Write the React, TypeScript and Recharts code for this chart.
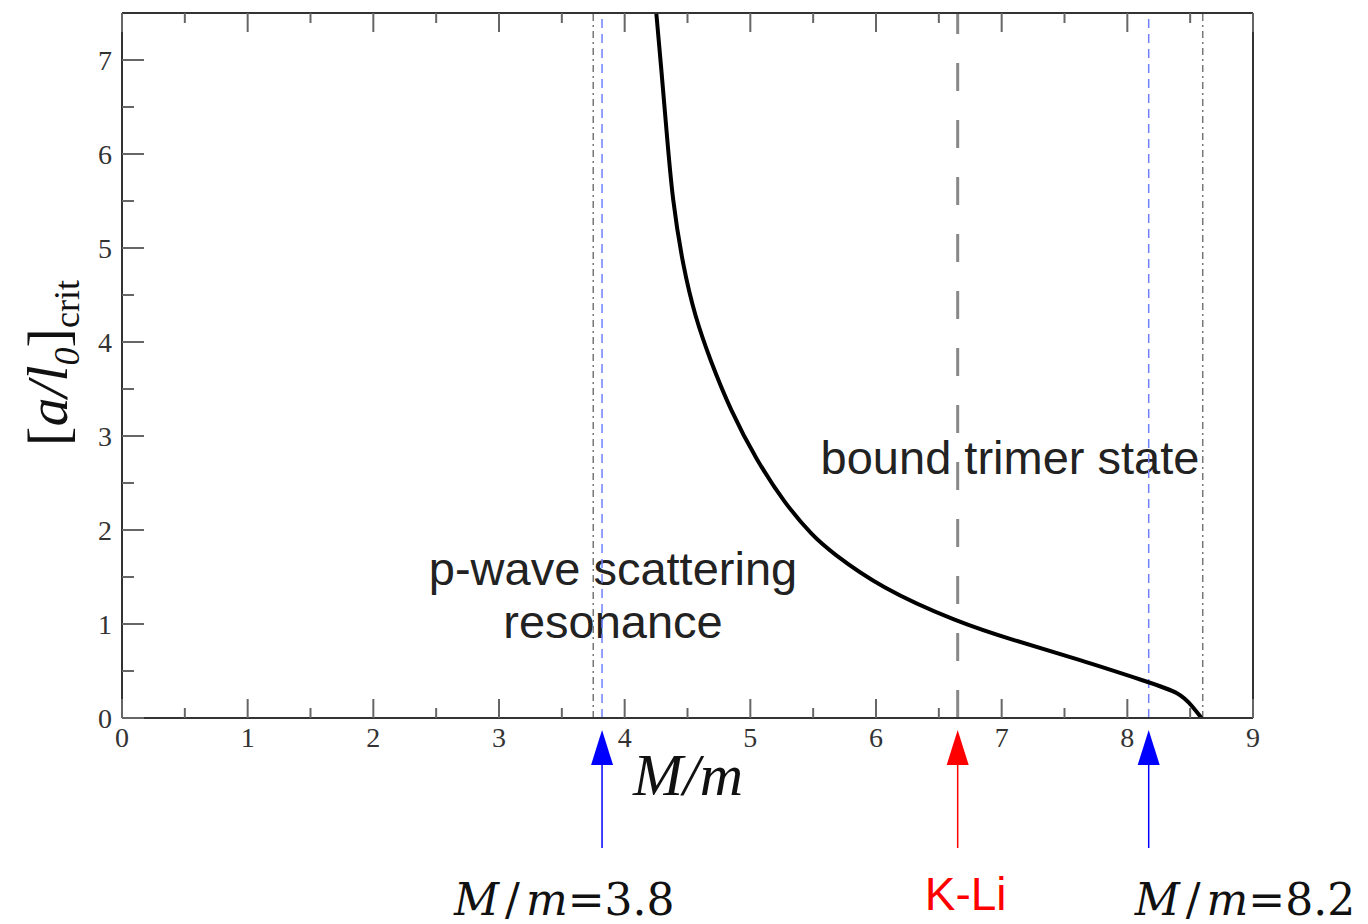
import { LineChart, Line, XAxis, YAxis, ReferenceLine } from 'recharts'

// critical curve
const massRatio = [4.245, 4.29, 4.335, 4.38, 4.465, 4.56, 4.68, 4.84, 5.05, 5.27, 5.5, 5.64, 6.03, 6.65, 7.09, 7.62, 8.17, 8.42, 8.52, 8.59]
const critValue = [7.6, 6.93, 6.22, 5.51, 4.8, 4.27, 3.81, 3.28, 2.74, 2.29, 1.93, 1.77, 1.39, 1.02, 0.83, 0.62, 0.38, 0.27, 0.12, 0]

const xTicks = [0, 0.5, 1, 1.5, 2, 2.5, 3, 3.5, 4, 4.5, 5, 5.5, 6, 6.5, 7, 7.5, 8, 8.5, 9]
const yTicks = [0, 0.5, 1, 1.5, 2, 2.5, 3, 3.5, 4, 4.5, 5, 5.5, 6, 6.5, 7]

// vertical markers
const dashDotLines = [3.75, 8.6]
const pWaveLow = 3.82
const pWaveHigh = 8.17
const kLi = 6.65

const data = massRatio.map((x, i) => ({ x, y: critValue[i] }))

const tickColor = '#666'
const labelFont = 'Liberation Serif, serif'
const sansFont = 'Liberation Sans, Arial, sans-serif'

const isMajor = (v: number) => Number.isInteger(v)

const BottomTick = (props: any) => {
  const { x, y, payload } = props
  const major = isMajor(payload.value)
  return (
    <g>
      <line x1={x} x2={x} y1={y} y2={y - (major ? 19 : 10)} stroke={tickColor} strokeWidth={2} />
      {major && (
        <text x={x} y={y + 29} textAnchor="middle" fontFamily={labelFont} fontSize={28} fill="#333">
          {payload.value}
        </text>
      )}
    </g>
  )
}

const TopTick = (props: any) => {
  const { x, y, payload } = props
  const major = isMajor(payload.value)
  return <line x1={x} x2={x} y1={y} y2={y + (major ? 19 : 10)} stroke={tickColor} strokeWidth={2} />
}

const LeftTick = (props: any) => {
  const { x, y, payload } = props
  const major = isMajor(payload.value)
  return (
    <g>
      <line x1={x} x2={x + (major ? 22 : 12)} y1={y} y2={y} stroke={tickColor} strokeWidth={2} />
      {major && (
        <text x={x - 10} y={y + 10} textAnchor="end" fontFamily={labelFont} fontSize={28} fill="#333">
          {payload.value}
        </text>
      )}
    </g>
  )
}

const RightTick = (props: any) => {
  const { x, y, payload } = props
  const major = isMajor(payload.value)
  return <line x1={x} x2={x - (major ? 22 : 12)} y1={y} y2={y} stroke={tickColor} strokeWidth={2} />
}

function ArrowMark({ viewBox, color, children }: any) {
  const x = viewBox.x
  const bottom = viewBox.y + viewBox.height
  const tip = bottom + 12
  const base = tip + 35
  return (
    <g>
      <polygon points={`${x},${tip} ${x - 11},${base} ${x + 11},${base}`} fill={color} />
      <line x1={x} x2={x} y1={base} y2={tip + 118} stroke={color} strokeWidth={1.5} />
      {children}
    </g>
  )
}

function RatioText({ x, y, value }: { x: number; y: number; value: string }) {
  return (
    <text x={x} y={y} fontFamily="DejaVu Serif, serif" fontSize={44} fill="#111">
      <tspan fontStyle="italic">M</tspan>
      <tspan dx={6}>/</tspan>
      <tspan dx={6} fontStyle="italic">m</tspan>
      <tspan>={value}</tspan>
    </text>
  )
}

const axisLine = { stroke: '#333', strokeWidth: 2 }

export default function App() {
  return (
    <LineChart width={1360} height={916} data={data} margin={{ top: 4, right: 114, bottom: 205, left: 113 }}>
      <XAxis
        dataKey="x"
        type="number"
        domain={[0, 9]}
        ticks={xTicks}
        interval={0}
        height={1}
        tickSize={0}
        tickMargin={0}
        tickLine={false}
        tick={BottomTick}
        axisLine={axisLine}
      />
      <XAxis
        xAxisId="top"
        orientation="top"
        dataKey="x"
        type="number"
        domain={[0, 9]}
        ticks={xTicks}
        interval={0}
        height={1}
        tickSize={0}
        tickMargin={0}
        tickLine={false}
        tick={TopTick}
        axisLine={axisLine}
      />
      <YAxis
        type="number"
        domain={[0, 7.5]}
        allowDataOverflow
        ticks={yTicks}
        interval={0}
        width={1}
        tickSize={0}
        tickMargin={0}
        tickLine={false}
        tick={LeftTick}
        axisLine={axisLine}
      />
      <YAxis
        yAxisId="right"
        orientation="right"
        type="number"
        domain={[0, 7.5]}
        ticks={yTicks}
        interval={0}
        width={1}
        tickSize={0}
        tickMargin={0}
        tickLine={false}
        tick={RightTick}
        axisLine={axisLine}
      />

      {dashDotLines.map((v) => (
        <ReferenceLine key={v} x={v} stroke="#777" strokeWidth={1.5} strokeDasharray="7 4 2 4" />
      ))}
      <ReferenceLine
        x={pWaveLow}
        stroke="#7080ff"
        strokeWidth={1.5}
        strokeDasharray="9 6"
        label={(p: any) => (
          <ArrowMark viewBox={p.viewBox} color="#0000ff">
            <RatioText x={p.viewBox.x - 148} y={907} value="3.8" />
          </ArrowMark>
        )}
      />
      <ReferenceLine
        x={pWaveHigh}
        stroke="#7080ff"
        strokeWidth={1.5}
        strokeDasharray="9 6"
        label={(p: any) => (
          <ArrowMark viewBox={p.viewBox} color="#0000ff">
            <RatioText x={p.viewBox.x - 14} y={907} value="8.2" />
          </ArrowMark>
        )}
      />
      <ReferenceLine
        x={kLi}
        stroke="#888"
        strokeWidth={3}
        strokeDasharray="28 29"
        label={(p: any) => (
          <ArrowMark viewBox={p.viewBox} color="#ff0000">
            <text x={p.viewBox.x + 8} y={902} textAnchor="middle" fontFamily={sansFont} fontSize={46} fill="#ff0000">
              K-Li
            </text>
          </ArrowMark>
        )}
      />

      <Line type="basis" dataKey="y" stroke="#000" strokeWidth={4} dot={false} isAnimationActive={false} />

      <text x={1002} y={466} textAnchor="middle" fontFamily={sansFont} fontSize={47} fill="#222">
        bound trimer state
      </text>
      <text x={605} y={577} textAnchor="middle" fontFamily={sansFont} fontSize={47} fill="#222">
        p-wave scattering
      </text>
      <text x={605} y={630} textAnchor="middle" fontFamily={sansFont} fontSize={47} fill="#222">
        resonance
      </text>

      <text x={680} y={787} textAnchor="middle" fontFamily={labelFont} fontSize={60} fontStyle="italic" fill="#111">
        M/m
      </text>
      <text
        transform="translate(59,355) rotate(-90)"
        textAnchor="middle"
        fontFamily={labelFont}
        fontSize={58}
        fill="#111"
      >
        <tspan>[</tspan>
        <tspan fontStyle="italic">a/l</tspan>
        <tspan fontStyle="italic" fontSize={36} dy={12}>0</tspan>
        <tspan dy={-12}>]</tspan>
        <tspan fontSize={36} dy={12}>crit</tspan>
      </text>
    </LineChart>
  )
}
